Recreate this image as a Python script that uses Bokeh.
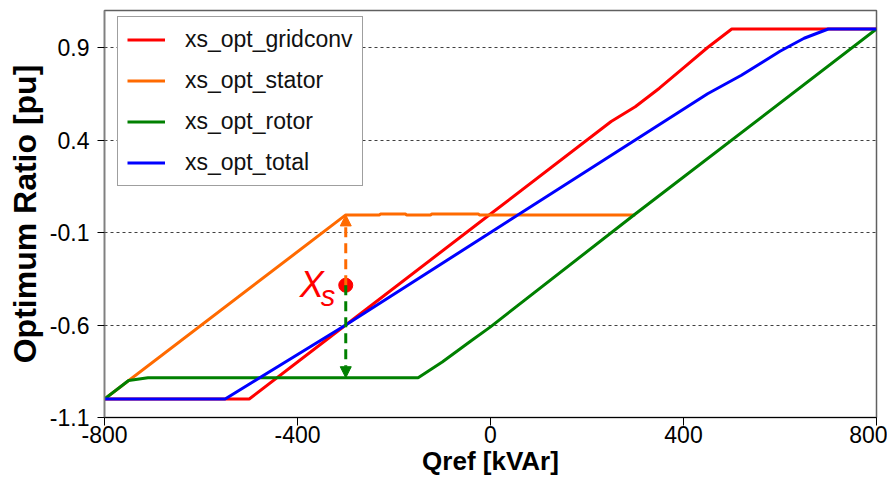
from bokeh.plotting import figure
from bokeh.models import FixedTicker, Legend, LegendItem, Arrow, NormalHead, Range1d
from bokeh.core.properties import value
from bokeh.embed import file_html
from bokeh.resources import INLINE

# ---- data ----
q_gridconv = [-800, -500, -300, 0, 250, 300, 350, 400, 450, 500, 800]
r_gridconv = [-1.0, -1.0, -0.6, 0.0, 0.5, 0.58, 0.68, 0.79, 0.9, 1.0, 1.0]

q_stator = [-800, -300, -230, -228, -176, -174, -124, -122, -25, -23, 300]
r_stator = [-1.0, -0.005, -0.005, 0.0, 0.0, -0.006, -0.006, 0.0, 0.0, -0.005, -0.005]

q_rotor = [-800, -750, -710, -150, -100, -40, 0, 300, 800]
r_rotor = [-1.0, -0.9, -0.885, -0.885, -0.8, -0.685, -0.61, 0.0, 1.0]

q_total = [-800, -550, -300, 0, 300, 450, 520, 600, 650, 700, 800]
r_total = [-1.0, -1.0, -0.6, -0.1, 0.4, 0.65, 0.75, 0.88, 0.95, 1.0, 1.0]

series_names = ["xs_opt_gridconv", "xs_opt_stator", "xs_opt_rotor", "xs_opt_total"]

x_ticks = [-800, -400, 0, 400, 800]
x_tick_labels = ["-800", "-400", "0", "400", "800"]
y_ticks = [-1.1, -0.6, -0.1, 0.4, 0.9]
y_tick_labels = ["-1.1", "-0.6", "-0.1", "0.4", "0.9"]

# Xs annotation point
xs_q = -300
xs_ratio = -0.385
xs_stator_level = -0.005
xs_rotor_level = -0.885

RED = "#FF0000"
ORANGE = "#FF6A00"
GREEN = "#008000"
BLUE = "#0000FF"
FONT = "Liberation Sans"

p = figure(width=887, height=485, x_range=Range1d(-800, 800), y_range=Range1d(-1.1, 1.1),
           output_backend="svg", toolbar_location=None,
           min_border_left=104, min_border_right=11, min_border_top=10, min_border_bottom=68)
p.background_fill_color = "white"
p.border_fill_color = "white"
p.outline_line_color = "#606060"
p.outline_line_width = 1.5

# axes
p.xaxis.ticker = FixedTicker(ticks=x_ticks)
p.yaxis.ticker = FixedTicker(ticks=y_ticks)
p.xaxis.major_label_overrides = {t: l for t, l in zip(x_ticks, x_tick_labels)}
p.yaxis.major_label_overrides = {t: l for t, l in zip(y_ticks, y_tick_labels)}
for ax in (p.xaxis, p.yaxis):
    ax.minor_tick_line_color = None
    ax.major_tick_in = 0
    ax.major_label_text_font = FONT
    ax.major_label_text_font_size = "23px"
    ax.major_label_text_color = "black"
    ax.axis_label_text_font = FONT
    ax.axis_label_text_font_style = "bold"
    ax.axis_label_text_color = "black"
    ax.major_tick_line_color = "black"
p.xaxis.major_tick_out = 8
p.yaxis.major_tick_out = 7
p.xaxis.axis_line_color = "black"
p.yaxis.axis_line_color = "#808080"
p.yaxis.axis_line_width = 1.5
p.xaxis.major_label_standoff = 0
p.yaxis.major_label_standoff = 8
p.xaxis.axis_label = "Qref [kVAr]"
p.yaxis.axis_label = "Optimum Ratio [pu]"
p.xaxis.axis_label_text_font_size = "26px"
p.yaxis.axis_label_text_font_size = "32px"
p.xaxis.axis_label_standoff = 0
p.yaxis.axis_label_standoff = 4

# grid
p.xgrid.grid_line_color = None
p.ygrid.ticker = FixedTicker(ticks=y_ticks)
p.ygrid.grid_line_color = "#404040"
p.ygrid.grid_line_dash = "3 3"
p.ygrid.grid_line_width = 1

# series
lw = 3
r1 = p.line(q_gridconv, r_gridconv, line_color=RED, line_width=lw)
r2 = p.line(q_stator, r_stator, line_color=ORANGE, line_width=lw)
r3 = p.line(q_rotor, r_rotor, line_color=GREEN, line_width=lw)
r4 = p.line(q_total, r_total, line_color=BLUE, line_width=lw)

# arrows
p.add_layout(Arrow(end=NormalHead(size=11, fill_color=ORANGE, line_color=ORANGE),
                   x_start=xs_q, y_start=xs_ratio, x_end=xs_q, y_end=xs_stator_level,
                   line_color=ORANGE, line_width=3, line_dash="10 6"))
p.add_layout(Arrow(end=NormalHead(size=11, fill_color=GREEN, line_color=GREEN),
                   x_start=xs_q, y_start=xs_ratio, x_end=xs_q, y_end=xs_rotor_level,
                   line_color=GREEN, line_width=3, line_dash="10 6"))
p.scatter([xs_q], [xs_ratio], size=14, fill_color=RED, line_color=RED)

p.text(x=[xs_q], y=[xs_ratio], text=["X"], text_font=value(FONT), text_font_style="italic",
       text_font_size="36px", text_color=RED, text_align="right", text_baseline="alphabetic",
       x_offset=-22, y_offset=-1)
p.text(x=[xs_q], y=[xs_ratio], text=["s"], text_font=value(FONT), text_font_style="italic",
       text_font_size="29px", text_color=RED, text_align="left", text_baseline="alphabetic",
       x_offset=-25, y_offset=11)

legend = Legend(items=[LegendItem(label=n, renderers=[r]) for n, r in zip(series_names, [r1, r2, r3, r4])],
                location=(13, 231))
legend.label_text_font = FONT
legend.label_text_font_size = "23px"
legend.label_text_color = "#111111"
legend.glyph_width = 38
legend.glyph_height = 27
legend.label_height = 27
legend.label_standoff = 20
legend.label_width = 158
legend.spacing = 14
legend.padding = 9
legend.border_line_color = "#404040"
legend.border_line_width = 1.5
legend.background_fill_color = "white"
legend.background_fill_alpha = 1.0
p.add_layout(legend)

open("out.html", "w").write(file_html(p, INLINE))
